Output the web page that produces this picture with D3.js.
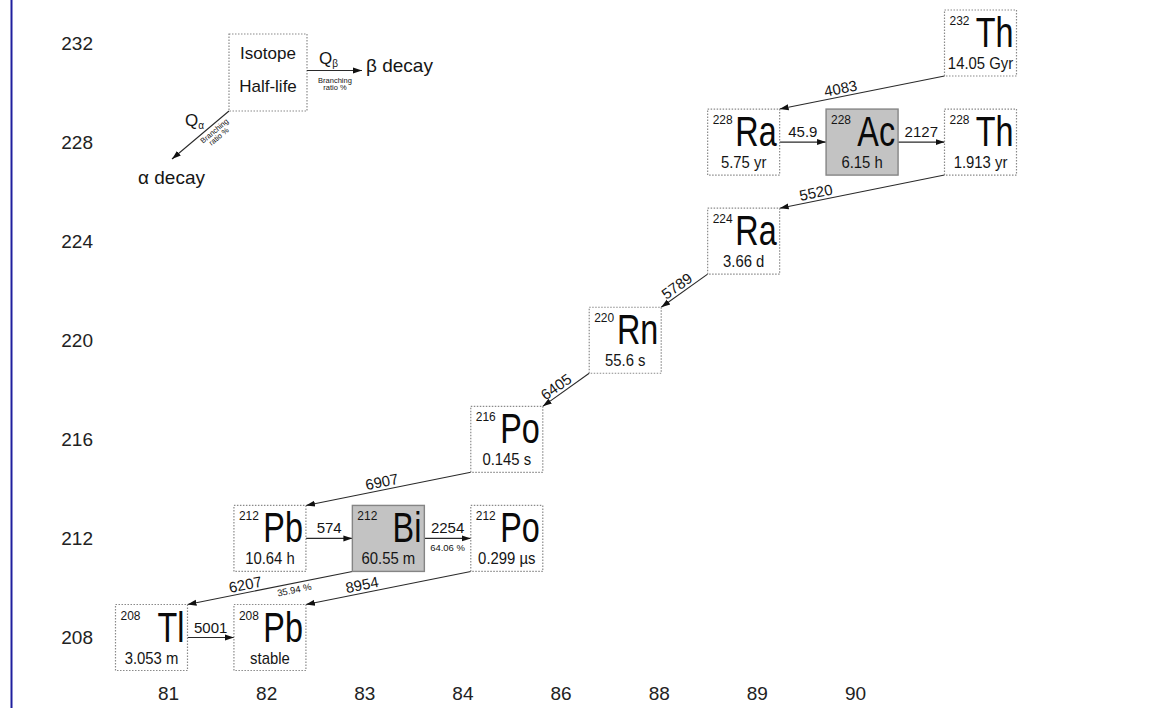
<!DOCTYPE html>
<html><head><meta charset="utf-8">
<script src="https://cdn.jsdelivr.net/npm/d3@7"></script>
<style>
html,body{margin:0;padding:0;background:#fff;}
svg{display:block;font-family:"Liberation Sans",Arial,Helvetica,sans-serif;}
</style></head><body>
<svg id="chart" width="1167" height="708"></svg>
<script>
// ---------- data ----------
const protonNumbers = [81, 82, 83, 84, 86, 88, 89, 90];
const massTicks = [208, 212, 216, 220, 224, 228, 232];
const isotopeSymbols = ["Th", "Ra", "Ac", "Th", "Ra", "Rn", "Po", "Pb", "Bi", "Po", "Tl", "Pb"];
const isotopeMasses  = [232, 228, 228, 228, 224, 220, 216, 212, 212, 212, 208, 208];
const isotopeZ       = [90, 88, 89, 90, 88, 86, 84, 82, 83, 84, 81, 82];
const halfLives = ["14.05 Gyr", "5.75 yr", "6.15 h", "1.913 yr", "3.66 d", "55.6 s", "0.145 s",
                   "10.64 h", "60.55 m", "0.299 µs", "3.053 m", "stable"];
const highlighted = [false, false, true, false, false, false, false, false, true, false, false, false];
const decayFrom = [0, 1, 2, 3, 4, 5, 6, 7, 8, 8, 9, 10];
const decayTo   = [1, 2, 3, 4, 5, 6, 7, 8, 9, 10, 11, 11];
const qValues = ["4083", "45.9", "2127", "5520", "5789", "6405", "6907", "574", "2254", "6207", "8954", "5001"];
const branchingRatios = ["", "", "", "", "", "", "", "", "64.06 %", "35.94 %", "", ""];

// ---------- layout ----------
const labelAlong  = [0.62, 0.5, 0.5, 0.77, 0.56, 0.61, 0.53, 0.5, 0.5, 0.64, 0.65, 0.5];
const branchAlong = [0.5, 0.5, 0.5, 0.5, 0.5, 0.5, 0.5, 0.5, 0.5, 0.36, 0.5, 0.5];
const BW = 72, BH = 66;
const textColor = "#151515";
const lineColor = "#2a2a2a";

const svg = d3.select("#chart");
const x = d3.scalePoint().domain(protonNumbers).range([151.5, 980.5]);
const xAxisScale = d3.scalePoint().domain(protonNumbers).range([168, 855]);
const y = d3.scaleLinear().domain([208, 232]).range([637.5, 43]);

// left blue frame line
svg.append("line").attr("x1", 11.5).attr("x2", 11.5).attr("y1", 0).attr("y2", 708)
  .attr("stroke", "#1f1f9e").attr("stroke-width", 2);

// arrow marker
svg.append("defs").append("marker")
  .attr("id", "arr").attr("markerUnits", "userSpaceOnUse")
  .attr("viewBox", "0 -4 9 8").attr("refX", 9).attr("refY", 0)
  .attr("markerWidth", 9).attr("markerHeight", 8).attr("orient", "auto")
  .append("path").attr("d", "M0,-3L9,0L0,3Z").attr("fill", "#111");

// axes
const yAxisG = svg.append("g").attr("transform", "translate(93,0)")
  .call(d3.axisLeft(y).tickValues(massTicks).tickSize(0).tickPadding(0).tickFormat(d3.format("d")));
yAxisG.select(".domain").remove();
yAxisG.attr("font-family", null).attr("font-size", 19);
yAxisG.selectAll("text").attr("fill", "#222");

const xAxisG = svg.append("g").attr("transform", "translate(0,686)")
  .call(d3.axisBottom(xAxisScale).tickSize(0).tickPadding(0));
xAxisG.select(".domain").remove();
xAxisG.attr("font-family", null).attr("font-size", 19);
xAxisG.selectAll("text").attr("fill", "#222");

// nodes
const nodes = isotopeSymbols.map((s, i) => ({
  symbol: s, mass: isotopeMasses[i], z: isotopeZ[i], half: halfLives[i], hi: highlighted[i],
  cx: x(isotopeZ[i]), cy: y(isotopeMasses[i])
}));

// transitions
const links = decayFrom.map((f, i) => {
  const a = nodes[f], b = nodes[decayTo[i]];
  let x1, y1, x2, y2, beta = a.mass === b.mass;
  if (beta) { x1 = a.cx + BW / 2; y1 = a.cy; x2 = b.cx - BW / 2; y2 = b.cy; }
  else { x1 = a.cx - BW / 2; y1 = a.cy + BH / 2; x2 = b.cx + BW / 2; y2 = b.cy - BH / 2; }
  return { x1, y1, x2, y2, beta, q: qValues[i], br: branchingRatios[i], t: labelAlong[i], tb: branchAlong[i] };
});

const linkG = svg.append("g");
linkG.selectAll("line").data(links).join("line")
  .attr("x1", d => d.x1).attr("y1", d => d.y1).attr("x2", d => d.x2).attr("y2", d => d.y2)
  .attr("stroke", lineColor).attr("stroke-width", 1.1).attr("marker-end", "url(#arr)");

function labelFrame(d, t) {
  const px = d.x1 + (d.x2 - d.x1) * t, py = d.y1 + (d.y2 - d.y1) * t;
  let ang = Math.atan2(d.y2 - d.y1, d.x2 - d.x1) * 180 / Math.PI;
  if (ang > 90) ang -= 180; if (ang < -90) ang += 180;
  return linkG.append("g").attr("transform", `translate(${px},${py}) rotate(${ang})`);
}
links.forEach(d => {
  const g = labelFrame(d, d.t);
  g.append("text").attr("y", d.beta ? -5 : -3).attr("text-anchor", "middle")
    .attr("font-size", 15).attr("fill", textColor).text(d.q);
  if (d.br) {
    const gb = d.beta ? g : labelFrame(d, d.tb);
    gb.append("text").attr("y", d.beta ? 13 : 10).attr("text-anchor", "middle")
      .attr("font-size", 9.5).attr("fill", textColor).text(d.br);
  }
});

// boxes
const boxG = svg.append("g").selectAll("g").data(nodes).join("g")
  .attr("transform", d => `translate(${d.cx - BW / 2},${d.cy - BH / 2})`);
boxG.append("rect").attr("width", BW).attr("height", BH)
  .attr("fill", d => d.hi ? "#c3c3c3" : "#fff")
  .attr("stroke", d => d.hi ? "#858585" : "#8a8a8a")
  .attr("stroke-width", d => d.hi ? 1.4 : 1.2)
  .attr("stroke-dasharray", d => d.hi ? null : "1.5,1.5");
boxG.append("text").attr("transform", "translate(5,15) scale(0.92,1)")
  .attr("font-size", 13).attr("fill", textColor).text(d => d.mass);
boxG.append("text").attr("transform", "translate(69,37) scale(0.77,1)")
  .attr("text-anchor", "end").attr("font-size", 42).attr("fill", "#0a0a0a").text(d => d.symbol);
boxG.append("text").attr("transform", `translate(${BW / 2},59) scale(0.93,1)`)
  .attr("text-anchor", "middle").attr("font-size", 16).attr("fill", textColor).text(d => d.half);

// legend
const lg = svg.append("g");
lg.append("rect").attr("x", 229).attr("y", 34).attr("width", 78).attr("height", 77)
  .attr("fill", "#fff").attr("stroke", "#8a8a8a").attr("stroke-width", 1.2).attr("stroke-dasharray", "1.5,1.5");
lg.append("text").attr("x", 268).attr("y", 59).attr("text-anchor", "middle").attr("font-size", 17).attr("fill", textColor).text("Isotope");
lg.append("text").attr("x", 268).attr("y", 92).attr("text-anchor", "middle").attr("font-size", 17).attr("fill", textColor).text("Half-life");
// beta
lg.append("line").attr("x1", 307).attr("y1", 70.5).attr("x2", 362).attr("y2", 70.5)
  .attr("stroke", lineColor).attr("stroke-width", 1.1).attr("marker-end", "url(#arr)");
const qb = lg.append("text").attr("x", 319).attr("y", 64).attr("font-size", 17).attr("fill", textColor);
qb.append("tspan").text("Q");
qb.append("tspan").attr("font-size", 10).attr("dy", 3).text("β");
lg.append("text").attr("x", 366).attr("y", 72).attr("font-size", 19).attr("fill", textColor).text("β decay");
lg.append("text").attr("x", 335).attr("y", 83).attr("text-anchor", "middle").attr("font-size", 7.5).attr("fill", textColor).text("Branching");
lg.append("text").attr("x", 335).attr("y", 90).attr("text-anchor", "middle").attr("font-size", 7.5).attr("fill", textColor).text("ratio %");
// alpha
lg.append("line").attr("x1", 229).attr("y1", 111).attr("x2", 172).attr("y2", 159)
  .attr("stroke", lineColor).attr("stroke-width", 1.1).attr("marker-end", "url(#arr)");
const qa = lg.append("text").attr("x", 185).attr("y", 126).attr("font-size", 17).attr("fill", textColor);
qa.append("tspan").text("Q");
qa.append("tspan").attr("font-size", 10).attr("dy", 3).text("α");
lg.append("text").attr("x", 138).attr("y", 184).attr("font-size", 19).attr("fill", textColor).text("α decay");
const ab = lg.append("g").attr("transform", "translate(216,133) rotate(-40)");
ab.append("text").attr("y", 0).attr("text-anchor", "middle").attr("font-size", 7.5).attr("fill", textColor).text("Branching");
ab.append("text").attr("y", 7).attr("text-anchor", "middle").attr("font-size", 7.5).attr("fill", textColor).text("ratio %");
</script>
</body></html>
